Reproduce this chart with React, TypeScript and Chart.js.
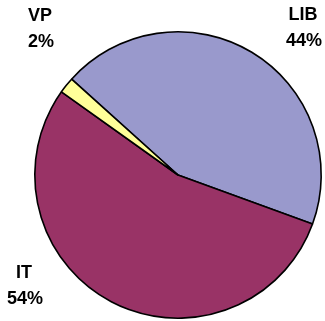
import React, { useEffect, useRef } from "react";
import { Chart, registerables } from "chart.js";

Chart.register(...registerables);

const categories = ["LIB", "IT", "VP"];
const values = [43.9, 54.3, 1.8];
const percentLabels = ["44%", "54%", "2%"];
const colors = ["#9999CC", "#993366", "#FFFF99"];

// label anchors (text layout, relative to canvas)
const labelAnchors: Record<string, [number, number]> = {
  LIB: [303, 15],
  IT: [24, 273],
  VP: [40, 16],
};

const labelPlugin = {
  id: "cornerLabels",
  afterDraw(chart: any) {
    const ctx = chart.ctx;
    ctx.save();
    ctx.font = "bold 18px 'Liberation Sans', Arial, sans-serif";
    ctx.fillStyle = "#000";
    ctx.textAlign = "center";
    ctx.textBaseline = "middle";
    categories.forEach((c, i) => {
      const [x, y] = labelAnchors[c];
      ctx.fillText(c, x, y);
      ctx.fillText(percentLabels[i], x + 1, y + 26);
    });
    ctx.restore();
  },
};

export default function App() {
  const ref = useRef<HTMLCanvasElement>(null);
  useEffect(() => {
    document.body.style.margin = "0";
    const chart = new Chart(ref.current!, {
      type: "pie",
      data: {
        labels: categories,
        datasets: [
          {
            data: values,
            backgroundColor: colors,
            borderColor: "#000",
            borderWidth: 1.6,
            hoverOffset: 0,
          },
        ],
      },
      options: {
        animation: false,
        responsive: false,
        rotation: -48,
        layout: { padding: { left: 34, right: 3, top: 31, bottom: 2 } },
        plugins: {
          legend: { display: false },
          tooltip: { enabled: false },
        },
      },
      plugins: [labelPlugin],
    });
    return () => chart.destroy();
  }, []);
  return (
    <div style={{ position: "absolute", left: 0, top: 0, width: 325, height: 321, background: "#fff" }}>
      <canvas ref={ref} width={325} height={321} />
    </div>
  );
}
